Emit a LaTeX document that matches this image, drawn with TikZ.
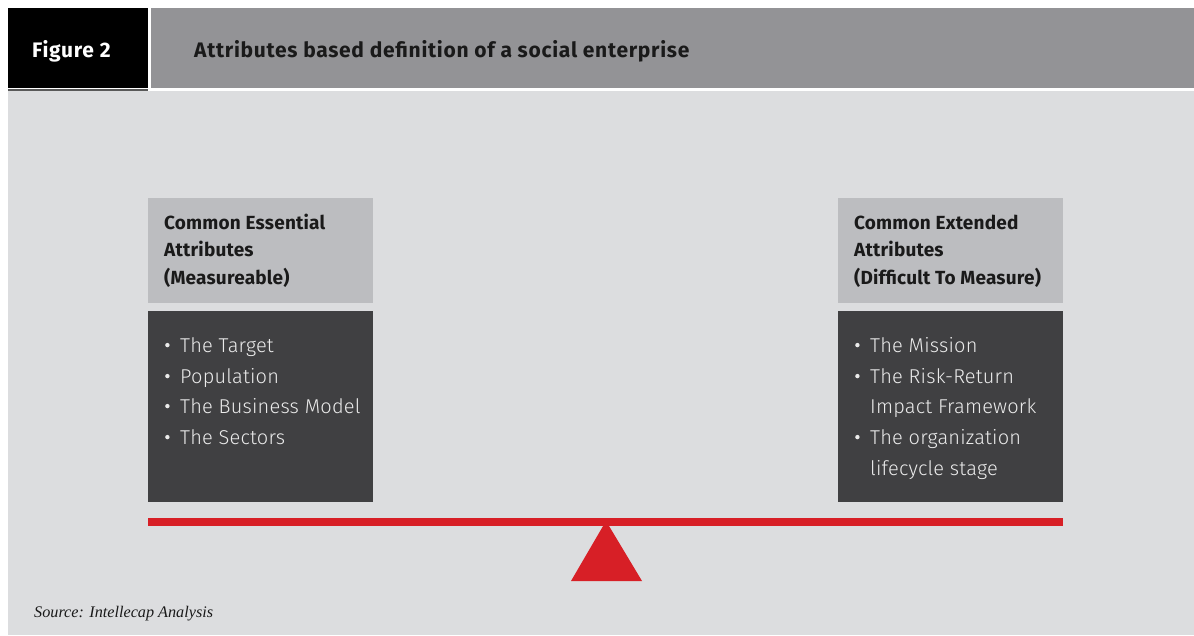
\documentclass[tikz,border=0pt]{standalone}
\usepackage{fontspec}
\setmainfont{Fira Sans}
\newfontfamily\hdfont[LetterSpace=3.4]{Fira Sans}
\newfontfamily\hbfont[LetterSpace=1]{Fira Sans}
\newfontfamily\lightfont[LetterSpace=1]{Fira Sans Light}
\newfontfamily\srcfont{Liberation Serif}
\definecolor{hdgray}{HTML}{939396}
\definecolor{bglight}{HTML}{DCDDDF}
\definecolor{boxgray}{HTML}{BCBDC0}
\definecolor{boxdark}{HTML}{404042}
\definecolor{seesaw}{HTML}{D71F26}
\definecolor{txtdark}{HTML}{1A1A1A}
\tikzset{
  boxhead/.style={fill=boxgray, minimum width=225pt, minimum height=105pt, anchor=north west, inner sep=0pt},
  boxbody/.style={fill=boxdark, minimum width=225pt, minimum height=191pt, anchor=north west, inner sep=0pt},
  headline/.style={anchor=base west, inner sep=0pt, text=txtdark, font=\hbfont\bfseries\fontsize{19}{23}\selectfont},
  itemline/.style={anchor=base west, inner sep=0pt, text=white!92!black, font=\lightfont\fontsize{20}{24}\selectfont},
  hdtext/.style={anchor=base west, inner sep=0pt, font=\hdfont\bfseries\fontsize{21}{25}\selectfont}
}
\newcommand{\bulitem}[1]{\makebox[16pt][l]{\hspace{1pt}\raisebox{0.45ex}{\tikz\fill[white!92!black] (0,0) circle (2.2pt);}}#1}
\begin{document}
\begin{tikzpicture}[x=1pt,y=-1pt]
\useasboundingbox (0,0) rectangle (1194,635);
\fill[white] (0,0) rectangle (1194,635);
% background
\fill[bglight] (8,91) rectangle (1194,635);
% header
\node[fill=black, minimum width=140pt, minimum height=80pt, anchor=north west, inner sep=0pt] (figbox) at (8,8) {};
\node[fill=hdgray, minimum width=1043pt, minimum height=80pt, anchor=north west, inner sep=0pt] (titlebox) at (151,8) {};
\fill[black!65] (8,89) rectangle (148,90.5);
\node[hdtext, text=white] (figlabel) at (32,57) {Figure 2};
\node[hdtext, text=txtdark] (title) at (194,57) {Attributes based definition of a social enterprise};
% left column
\node[boxhead] (lhead) at (148,198) {};
\node[boxbody] (lbody) at (148,311) {};
\node[headline] (lh1) at (164,229) {Common Essential};
\node[headline] (lh2) at (164,256.5) {Attributes};
\node[headline] (lh3) at (164,284) {(Measureable)};
\node[itemline] (li1) at (164,352) {\bulitem{The Target}};
\node[itemline] (li2) at (164,383) {\bulitem{Population}};
\node[itemline] (li3) at (164,413) {\bulitem{The Business Model}};
\node[itemline] (li4) at (164,444) {\bulitem{The Sectors}};
% right column
\node[boxhead] (rhead) at (838,198) {};
\node[boxbody] (rbody) at (838,311) {};
\node[headline] (rh1) at (854,229) {Common Extended};
\node[headline] (rh2) at (854,256.5) {Attributes};
\node[headline] (rh3) at (854,284) {(Difficult To Measure)};
\node[itemline] (ri1) at (854,352) {\bulitem{The Mission}};
\node[itemline] (ri2) at (854,383) {\bulitem{The Risk-Return}};
\node[itemline] (ri3) at (870,413) {Impact Framework};
\node[itemline] (ri4) at (854,444) {\bulitem{The organization}};
\node[itemline] (ri5) at (870,475) {lifecycle stage};
% seesaw
\fill[seesaw] (148,518) rectangle (1063,526);
\fill[seesaw] (606,521) -- (642,581) -- (571,581) -- cycle;
% source
\node[anchor=base west, inner sep=0pt, text=txtdark, font=\srcfont\itshape\fontsize{16.2}{19}\selectfont] (source) at (34,617) {Source: Intellecap Analysis};
\end{tikzpicture}
\end{document}
